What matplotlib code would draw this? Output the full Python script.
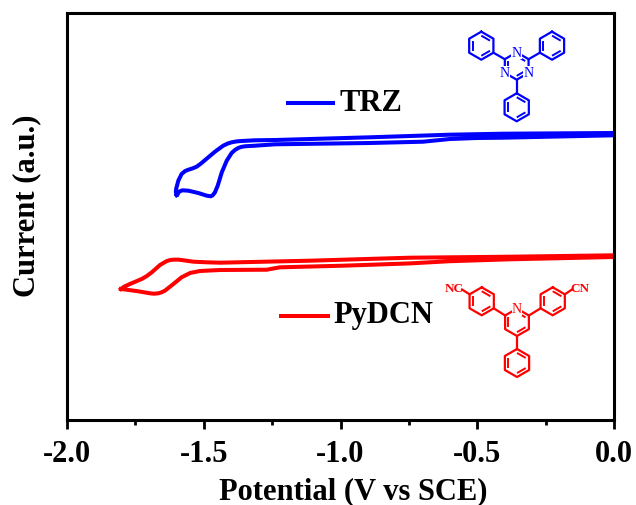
import numpy as np
import matplotlib
matplotlib.use('Agg')
import matplotlib.pyplot as plt

plt.rcParams['font.family'] = ['Liberation Serif', 'DejaVu Serif']
plt.rcParams['font.weight'] = 'bold'

# cyclic voltammograms (current in arbitrary units)
trz_potential = [-1.599, -1.602, -1.601, -1.593, -1.581, -1.568, -1.556, -1.540, -1.526, -1.510, -1.495,
                 -1.459, -1.429, -1.412, -1.398, -1.380, -1.361, -1.313, -1.239, -0.892, -0.600, -0.406, 0.0,
                 0.0, -0.406, -0.500, -0.600, -0.698, -0.892, -1.239, -1.313, -1.350, -1.364, -1.374, -1.386,
                 -1.398, -1.416, -1.434, -1.449, -1.459, -1.467, -1.474, -1.489, -1.520, -1.556, -1.578,
                 -1.590, -1.595, -1.599]
trz_current = [225, 228, 231, 239.3, 246, 249, 250.3, 251.7, 253.3, 256.5, 260,
               268.3, 274.3, 276.5, 277.7, 278.6, 279, 279.7, 280, 282.7, 285.3, 286.3, 287,
               284.7, 282.3, 282, 281, 278.3, 277, 275.7, 274.3, 273.7, 273, 272, 270,
               267, 259.3, 247.7, 234.3, 227.7, 224.8, 223.7, 224.3, 227, 229.3, 229.7,
               228.4, 226, 225]

pydcn_potential = [-1.803, -1.790, -1.770, -1.727, -1.708, -1.690, -1.660, -1.635, -1.622, -1.611, -1.595,
                   -1.581, -1.538, -1.489, -1.441, -1.112, -0.746, -0.380, 0.0,
                   0.0, -0.380, -0.600, -0.746, -0.991, -1.221, -1.250, -1.269, -1.441, -1.514, -1.550,
                   -1.581, -1.611, -1.642, -1.655, -1.666, -1.682, -1.697, -1.739, -1.782, -1.803]
pydcn_current = [131, 133.5, 136, 141, 144, 147.7, 155, 159, 160, 160.3, 160.4,
                 160, 158.3, 157.7, 157.3, 159.3, 162.3, 163.3, 164.7,
                 163, 160.7, 158.8, 156.6, 154.3, 152.7, 151.3, 150.3, 150, 149, 147,
                 142.7, 136, 129.3, 127.6, 126.7, 126.3, 126.7, 128.7, 130.3, 131]

x_ticks = [-2.0, -1.5, -1.0, -0.5, 0.0]
x_minor = [-1.75, -1.25, -0.75, -0.25]

BLUE = '#0000ff'
RED = '#ff0000'

fig = plt.figure(figsize=(6.36, 5.06), dpi=100)
ax = fig.add_axes([67 / 636, 1 - 421 / 506, 547 / 636, 407 / 506])

ax.plot(trz_potential, trz_current, color=BLUE, lw=2.9, solid_joinstyle='round')
ax.plot(pydcn_potential, pydcn_current, color=RED, lw=2.9, solid_joinstyle='round')

ax.set_xlim(-2.0, 0.0)
ax.set_ylim(0, 407)
ax.set_yticks([])
ax.set_xticks(x_ticks)
ax.set_xticklabels(['%.1f' % t for t in x_ticks])
ax.set_xticks(x_minor, minor=True)
ax.tick_params(axis='x', which='major', length=6.5, width=2, labelsize=22, pad=7)
ax.tick_params(axis='x', which='minor', length=3.5, width=2)
for s in ax.spines.values():
    s.set_linewidth(2.2)
ax.set_xlabel('Potential (V vs SCE)', fontsize=22, fontweight='bold')
ax.set_ylabel('Current (a.u.)', fontsize=22, fontweight='bold')
ax.xaxis.set_label_coords(0.524, -0.137)
ax.yaxis.set_label_coords(-0.047, 0.528)

# overlay in pixel units for the labels and the structure drawings
ov = fig.add_axes([0, 0, 1, 1])
ov.set_xlim(0, 636)
ov.set_ylim(506, 0)
ov.axis('off')
ov.patch.set_alpha(0)


def vertices(cx, cy, r):
    ang = np.radians(np.arange(6) * 60 - 90)
    return np.column_stack([cx + r * np.cos(ang), cy + r * np.sin(ang)])


def ring(cx, cy, r, color, doubles=(0, 2, 4)):
    v = vertices(cx, cy, r)
    ov.plot(*np.vstack([v, v[0]]).T, color=color, lw=1.6, solid_joinstyle='round')
    inner = vertices(cx, cy, r * 0.72)
    for i in doubles:
        a, b = inner[i], inner[(i + 1) % 6]
        ov.plot([a[0] + (b[0] - a[0]) * 0.1, a[0] + (b[0] - a[0]) * 0.9],
                [a[1] + (b[1] - a[1]) * 0.1, a[1] + (b[1] - a[1]) * 0.9], color=color, lw=1.4)


def bond(x0, y0, x1, y1, color):
    ov.plot([x0, x1], [y0, y1], color=color, lw=1.6)


def atom(x, y, s, color, size=10):
    ov.text(x, y, s, color=color, fontsize=size, fontweight='normal', ha='center', va='center',
            bbox=dict(facecolor='white', edgecolor='none', pad=0.3), zorder=5)


# TRZ
ring(516.7, 67, 13.7, BLUE)
ring(481.3, 46.7, 14, BLUE)
ring(552, 46.7, 14, BLUE)
ring(516.7, 108.3, 14, BLUE)
bond(504.8, 60.2, 493.4, 53.7, BLUE)
bond(528.6, 60.2, 539.9, 53.7, BLUE)
bond(516.7, 80.7, 516.7, 94.3, BLUE)
atom(516.7, 53.3, 'N', BLUE)
atom(528.6, 73.8, 'N', BLUE)
atom(504.8, 73.8, 'N', BLUE)

# PyDCN
ring(517, 323.3, 13.7, RED)
ring(481.7, 302.3, 14, RED)
ring(552.7, 302.3, 14, RED)
ring(517, 364, 14, RED)
bond(505.1, 316.5, 493.8, 309.3, RED)
bond(528.9, 316.5, 540.6, 309.3, RED)
bond(517, 337, 517, 350, RED)
bond(469.6, 295.3, 462, 290.5, RED)
bond(564.8, 295.3, 572, 290.5, RED)
atom(517, 309.6, 'N', RED)
ov.text(454, 289.3, 'NC', color=RED, fontsize=9.5, fontweight='bold', ha='center', va='center')
ov.text(580.3, 289.3, 'CN', color=RED, fontsize=9.5, fontweight='bold', ha='center', va='center')

# labels
ov.plot([288, 333], [104, 104], color=BLUE, lw=2.9)
ov.text(340, 103, 'TRZ', fontsize=22, fontweight='bold', ha='left', va='center')
ov.plot([281, 328], [317, 317], color=RED, lw=2.9)
ov.text(333, 316, 'PyDCN', fontsize=22, fontweight='bold', ha='left', va='center')

fig.savefig('out.png', dpi=100)
